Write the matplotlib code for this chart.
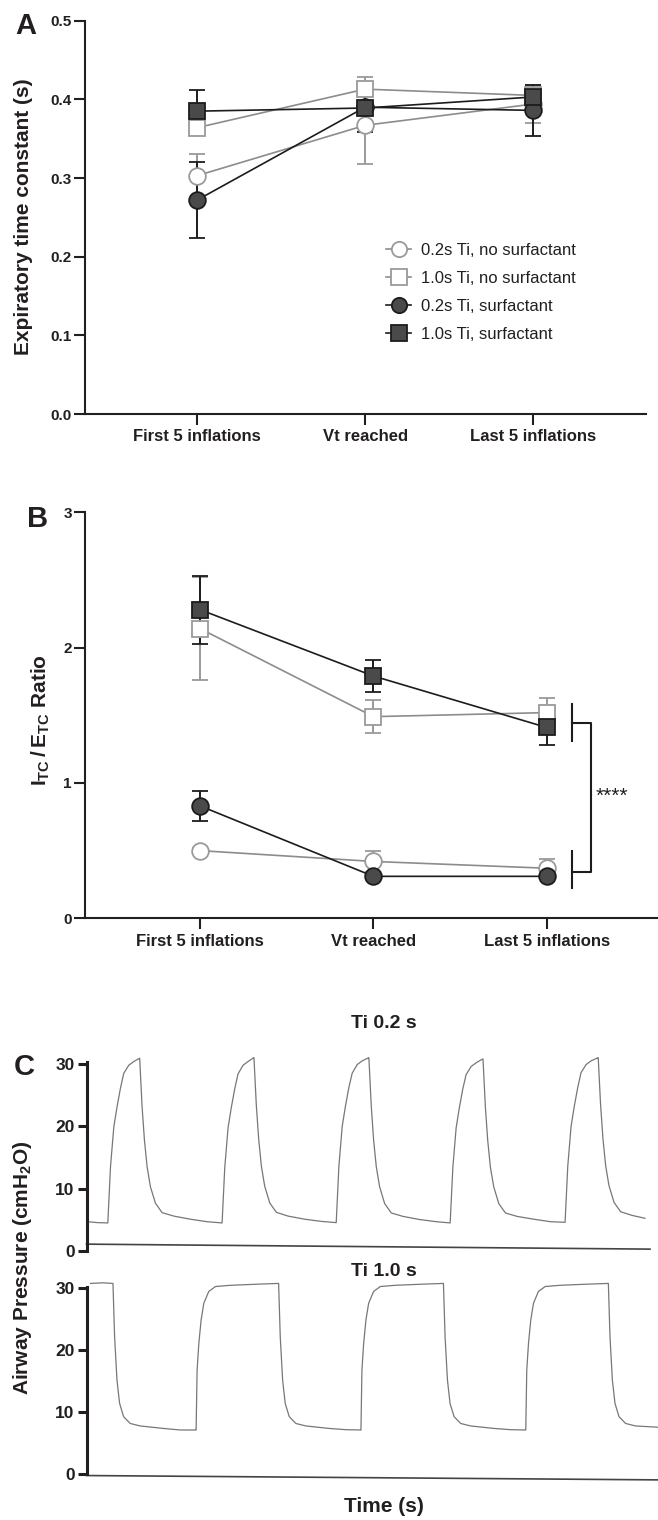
import matplotlib

matplotlib.use("Agg")
import matplotlib.pyplot as plt
from matplotlib.lines import Line2D

plt.rcParams["font.family"] = ["Liberation Sans", "DejaVu Sans"]
plt.rcParams["mathtext.fontset"] = "custom"
plt.rcParams["mathtext.rm"] = "Liberation Sans"
plt.rcParams["mathtext.bf"] = "Liberation Sans:bold"

TEXT = "#231f20"
GREY_LINE = "#8c8c8c"
GREY_EDGE = "#9a9a9a"
DARK_LINE = "#1c1c1c"
DARK_FILL = "#4a4a4a"
TRACE = "#777777"

# ---- data -----------------------------------------------------------------
categories = ["First 5 inflations", "Vt reached", "Last 5 inflations"]
series_labels = [
    "0.2s Ti, no surfactant",
    "1.0s Ti, no surfactant",
    "0.2s Ti, surfactant",
    "1.0s Ti, surfactant",
]

# panel A: expiratory time constant (s)
etc_02_nosurf = [0.303, 0.367, 0.394]
etc_02_nosurf_err = [0.028, 0.049, 0.024]
etc_10_nosurf = [0.364, 0.413, 0.405]
etc_10_nosurf_err = [0.007, 0.016, 0.010]
etc_02_surf = [0.272, 0.390, 0.386]
etc_02_surf_err = [0.048, 0.020, 0.032]
etc_10_surf = [0.385, 0.389, 0.403]
etc_10_surf_err = [0.027, 0.030, 0.012]

# panel B: ITC / ETC ratio
ratio_02_nosurf = [0.50, 0.42, 0.37]
ratio_02_nosurf_err = [0.02, 0.08, 0.07]
ratio_10_nosurf = [2.14, 1.49, 1.52]
ratio_10_nosurf_err = [0.38, 0.12, 0.11]
ratio_02_surf = [0.83, 0.31, 0.31]
ratio_02_surf_err = [0.11, 0.02, 0.02]
ratio_10_surf = [2.28, 1.79, 1.41]
ratio_10_surf_err = [0.25, 0.12, 0.13]

time_ti02 = [
    0.008, 0.070,
    0.135, 0.152, 0.173, 0.194, 0.215, 0.236, 0.268, 0.300, 0.335, 0.337,
    0.352, 0.367, 0.384, 0.405, 0.437, 0.479, 0.553, 0.658, 0.764,
    0.859, 0.876, 0.897, 0.918, 0.939, 0.960, 0.992, 1.024, 1.059, 1.061,
    1.076, 1.091, 1.108, 1.129, 1.161, 1.203, 1.277, 1.382, 1.488,
    1.582, 1.599, 1.620, 1.641, 1.662, 1.683, 1.715, 1.747, 1.787, 1.789,
    1.804, 1.819, 1.836, 1.857, 1.889, 1.931, 2.005, 2.110, 2.216,
    2.304, 2.321, 2.342, 2.363, 2.384, 2.405, 2.437, 2.469, 2.510, 2.512,
    2.527, 2.542, 2.559, 2.580, 2.612, 2.654, 2.728, 2.833, 2.939,
    3.032, 3.049, 3.070, 3.091, 3.112, 3.133, 3.165, 3.197, 3.240, 3.242,
    3.257, 3.272, 3.289, 3.310, 3.342, 3.384, 3.458, 3.538,
]
pressure_ti02 = [
    4.7, 4.55,
    4.5, 13.5, 19.9, 23.2, 26.1, 28.5, 29.8, 30.4, 30.9, 30.9,
    23.2, 17.8, 13.5, 10.3, 7.65, 6.15, 5.6, 5.1, 4.7,
    4.5, 13.4, 19.8, 23.1, 26.0, 28.4, 29.8, 30.4, 31.0, 31.0,
    23.3, 17.9, 13.6, 10.4, 7.7, 6.2, 5.6, 5.1, 4.75,
    4.55, 13.6, 20.0, 23.3, 26.2, 28.5, 29.9, 30.5, 31.0, 31.0,
    23.3, 17.8, 13.5, 10.3, 7.6, 6.1, 5.55, 5.05, 4.7,
    4.5, 13.4, 19.8, 23.1, 26.0, 28.3, 29.6, 30.2, 30.8, 30.8,
    23.1, 17.7, 13.4, 10.3, 7.6, 6.1, 5.55, 5.1, 4.7,
    4.6, 13.6, 20.0, 23.3, 26.2, 28.6, 29.9, 30.5, 31.0, 31.0,
    23.4, 18.0, 13.7, 10.5, 7.8, 6.3, 5.7, 5.25,
]
time_ti10 = [
    0.05, 0.20,
    0.323, 0.343, 0.372, 0.404, 0.453, 0.534, 0.656, 0.941, 1.144, 1.336,
    1.338, 1.350, 1.371, 1.399, 1.432, 1.492, 1.574, 1.757, 2.123, 2.343,
    2.345, 2.365, 2.394, 2.426, 2.475, 2.556, 2.678, 2.963, 3.166, 3.348,
    3.350, 3.362, 3.383, 3.411, 3.444, 3.504, 3.586, 3.769, 4.135, 4.355,
    4.357, 4.377, 4.406, 4.438, 4.487, 4.568, 4.690, 4.975, 5.178, 5.360,
    5.362, 5.374, 5.395, 5.423, 5.456, 5.516, 5.598, 5.781, 6.147, 6.368,
    6.370, 6.390, 6.419, 6.451, 6.500, 6.581, 6.703, 6.975,
]
pressure_ti10 = [
    30.8, 30.9,
    30.8, 22.2, 15.2, 11.45, 9.3, 8.2, 7.8, 7.4, 7.15, 7.15,
    7.15, 16.8, 21.1, 24.9, 27.6, 29.5, 30.3, 30.5, 30.7, 30.8,
    30.8, 22.2, 15.2, 11.4, 9.3, 8.2, 7.8, 7.4, 7.2, 7.15,
    7.15, 16.8, 21.1, 24.9, 27.6, 29.5, 30.3, 30.5, 30.7, 30.8,
    30.8, 22.2, 15.2, 11.4, 9.3, 8.2, 7.8, 7.4, 7.2, 7.15,
    7.15, 16.8, 21.1, 24.9, 27.6, 29.5, 30.3, 30.5, 30.7, 30.8,
    30.8, 22.2, 15.2, 11.45, 9.3, 8.2, 7.8, 7.6,
]

# ---- styles ----------------------------------------------------------------
STYLES = [
    dict(marker="o", mfc="white", mec=GREY_EDGE, color=GREY_LINE, ecolor=GREY_EDGE),
    dict(marker="s", mfc="white", mec=GREY_EDGE, color=GREY_LINE, ecolor=GREY_EDGE),
    dict(marker="o", mfc=DARK_FILL, mec=DARK_LINE, color=DARK_LINE, ecolor=DARK_LINE),
    dict(marker="s", mfc=DARK_FILL, mec=DARK_LINE, color=DARK_LINE, ecolor=DARK_LINE),
]

W, H = 658, 1520
fig = plt.figure(figsize=(W / 100, H / 100), dpi=100)


def fig_rect(x0, y_top, x1, y_bottom):
    return [x0 / W, 1 - y_bottom / H, (x1 - x0) / W, (y_bottom - y_top) / H]


def style_axes(ax, lw=1.5):
    for side in ("top", "right"):
        ax.spines[side].set_visible(False)
    for side in ("left", "bottom"):
        ax.spines[side].set_linewidth(lw)
        ax.spines[side].set_color(TEXT)
    ax.tick_params(colors=TEXT, width=lw)


def plot_groups(ax, groups, ms):
    x = list(range(len(categories)))
    for (mean, err), st in zip(groups, STYLES):
        ax.errorbar(
            x, mean, yerr=err, fmt="-", marker=st["marker"], ms=ms,
            mfc=st["mfc"], mec=st["mec"], mew=1.3, color=st["color"],
            ecolor=st["ecolor"], elinewidth=1.4, capsize=6, capthick=1.4, lw=1.2,
        )
    ax.set_xticks(x)
    ax.set_xticklabels(categories, fontsize=12, fontweight="bold", color=TEXT)
    ax.tick_params(axis="x", length=8, pad=3)
    ax.tick_params(axis="y", length=8, pad=1.5, labelsize=11)
    for lab in ax.get_yticklabels():
        lab.set_fontweight("bold")


# ---- panel A ----------------------------------------------------------------
axA = fig.add_axes(fig_rect(85, 20.7, 646, 414))
style_axes(axA)
plot_groups(
    axA,
    [
        (etc_02_nosurf, etc_02_nosurf_err),
        (etc_10_nosurf, etc_10_nosurf_err),
        (etc_02_surf, etc_02_surf_err),
        (etc_10_surf, etc_10_surf_err),
    ],
    ms=12,
)
axA.set_xlim(-0.668, 2.673)
axA.set_ylim(0, 0.5)
axA.set_yticks([0, 0.1, 0.2, 0.3, 0.4, 0.5])
axA.set_yticklabels(["0.0", "0.1", "0.2", "0.3", "0.4", "0.5"], fontweight="bold")

handles = [
    Line2D([], [], marker=st["marker"], ms=11, mfc=st["mfc"], mec=st["mec"],
           mew=1.3, color=st["color"], lw=1.2)
    for st in STYLES
]
axA.legend(
    handles, series_labels, loc="upper left", bbox_to_anchor=(386 / W, 1 - 243 / H),
    bbox_transform=fig.transFigure, frameon=False, fontsize=12, handlelength=1.5,
    handletextpad=0.6, labelspacing=0.78, borderpad=0, borderaxespad=0,
    labelcolor=TEXT,
)

# ---- panel B ----------------------------------------------------------------
axB = fig.add_axes(fig_rect(85, 512.3, 658, 918.3))
style_axes(axB)
plot_groups(
    axB,
    [
        (ratio_02_nosurf, ratio_02_nosurf_err),
        (ratio_10_nosurf, ratio_10_nosurf_err),
        (ratio_02_surf, ratio_02_surf_err),
        (ratio_10_surf, ratio_10_surf_err),
    ],
    ms=12,
)
axB.set_xlim(-0.665, 2.642)
axB.set_ylim(0, 3)
axB.set_yticks([0, 1, 2, 3])

# significance bracket between surfactant and no-surfactant groups
bkw = dict(color=DARK_LINE, lw=1.5, clip_on=False)
axB.plot([2.143, 2.143], [1.31, 1.585], **bkw)
axB.plot([2.143, 2.143], [0.226, 0.496], **bkw)
axB.plot([2.143, 2.255, 2.255, 2.143], [1.442, 1.442, 0.341, 0.341], **bkw)
axB.text(2.28, 0.90, "****", fontsize=15, color=TEXT, ha="left", va="center")

# ---- panel C ----------------------------------------------------------------
axC1 = fig.add_axes(fig_rect(86.5, 1051.5, 650, 1251))
axC2 = fig.add_axes(fig_rect(86.5, 1276, 658, 1474.3))
for ax, t, p, xmax, y0, y1 in (
    (axC1, time_ti02, pressure_ti02, 3.57, 1.1, 0.3),
    (axC2, time_ti10, pressure_ti10, 6.976, -0.2, -0.9),
):
    style_axes(ax, lw=2.2)
    ax.spines["bottom"].set_visible(False)
    ax.spines["left"].set_bounds(0, 30.3)
    ax.plot(t, p, color=TRACE, lw=0.9)
    ax.set_xlim(0, xmax)
    ax.set_ylim(0, 32)
    ax.set_xticks([])
    ax.set_yticks([0, 10, 20, 30])
    ax.tick_params(axis="y", length=6.5, pad=2, labelsize=12.5)
    for lab in ax.get_yticklabels():
        lab.set_fontweight("bold")
    # recording baseline, slightly tilted as in the original trace
    ax.plot([0, 1], [y0 / 32, y1 / 32], transform=ax.transAxes, color="#444444",
            lw=1.2, clip_on=False)

# ---- labels -----------------------------------------------------------------
def ftext(x, y, s, **kw):
    fig.text(x / W, 1 - y / H, s, color=TEXT, ha="center", va="center", **kw)


ftext(25.5, 25.5, "A", fontsize=21, fontweight="bold")
ftext(37.8, 519, "B", fontsize=21, fontweight="bold")
ftext(24, 1067, "C", fontsize=21, fontweight="bold")
ftext(24, 216.7, "Expiratory time constant (s)", fontsize=15, fontweight="bold", rotation=90)
ftext(41, 720, r"$\mathbf{I_{TC}\,/\,E_{TC}}$ Ratio", fontsize=15, fontweight="bold", rotation=90)
ftext(23, 1267.5, r"Airway Pressure (cmH$\mathbf{_2}$O)", fontsize=15, fontweight="bold", rotation=90)
ftext(384, 1023, "Ti 0.2 s", fontsize=14, fontweight="bold")
ftext(384, 1271.5, "Ti 1.0 s", fontsize=14, fontweight="bold")
ftext(384, 1507, "Time (s)", fontsize=15, fontweight="bold")

fig.savefig("out.png", dpi=100)
